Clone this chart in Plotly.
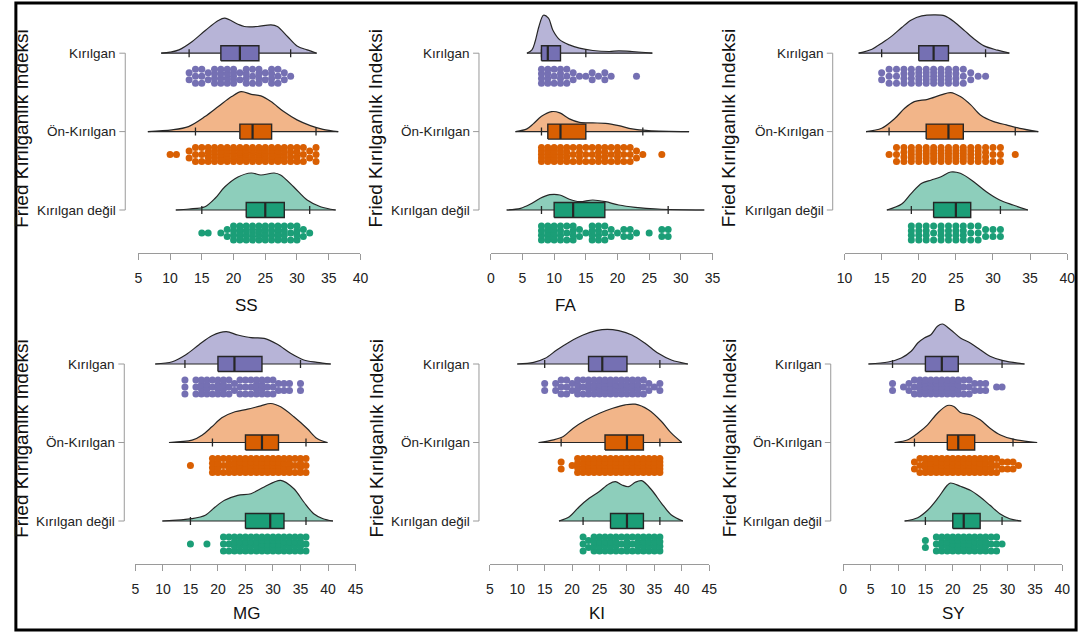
import plotly.graph_objects as go

W, H = 1090, 634
FONT = "Liberation Sans, Arial, sans-serif"

GROUPS = ["Kırılgan", "Ön-Kırılgan", "Kırılgan değil"]
GROUP_POS = [3, 2, 1]
PANELS = ["SS", "FA", "B", "MG", "KI", "SY"]
Y_TITLE = "Fried Kırılganlık Indeksi"

# x tick labels per panel
SS_TICKS = [5, 10, 15, 20, 25, 30, 35, 40]
FA_TICKS = [0, 5, 10, 15, 20, 25, 30, 35]
B_TICKS = [10, 15, 20, 25, 30, 35, 40]
MG_TICKS = [5, 10, 15, 20, 25, 30, 35, 40, 45]
KI_TICKS = [5, 10, 15, 20, 25, 30, 35, 40, 45]
SY_TICKS = [0, 5, 10, 15, 20, 25, 30, 35, 40]

# box stats: [lower whisker, q1, median, q3, upper whisker]
SS_BOX = {"Kırılgan": [13, 18, 21, 24, 29], "Ön-Kırılgan": [14, 21, 23, 26, 33], "Kırılgan değil": [15, 22, 25, 28, 32]}
FA_BOX = {"Kırılgan": [8, 8, 9, 11, 15], "Ön-Kırılgan": [8, 9, 11, 15, 24], "Kırılgan değil": [8, 10, 13, 18, 28]}
B_BOX = {"Kırılgan": [15, 20, 22, 24, 29], "Ön-Kırılgan": [16, 21, 24, 26, 33], "Kırılgan değil": [19, 22, 25, 27, 31]}
MG_BOX = {"Kırılgan": [14, 20, 23, 28, 35], "Ön-Kırılgan": [19, 25, 28, 31, 36], "Kırılgan değil": [15, 25, 29.5, 32, 36]}
KI_BOX = {"Kırılgan": [15, 23, 25.5, 30, 36], "Ön-Kırılgan": [18, 26, 30, 33, 36], "Kırılgan değil": [22, 27, 30, 33, 36]}
SY_BOX = {"Kırılgan": [9, 15, 18, 21, 29], "Ön-Kırılgan": [13, 19, 21, 24, 31], "Kırılgan değil": [15, 20, 22, 25, 29]}

# density curves (x, relative density)
SS_DX = {
    "Kırılgan": [8.6, 10.0, 11.4, 13.5, 15.6, 17.6, 18.6, 20.7, 21.7, 23.8, 25.9, 26.9, 28.5, 30.0, 31.6, 33.1],
    "Ön-Kırılgan": [6.5, 10.3, 12.9, 15.5, 17.6, 19.7, 21.2, 22.8, 24.3, 25.9, 27.9, 30.0, 32.1, 34.1, 36.5],
    "Kırılgan değil": [10.9, 13.0, 15.5, 17.1, 18.6, 20.7, 22.8, 24.3, 26.4, 27.4, 29.5, 31.6, 33.7, 36.1],
}
SS_DY = {
    "Kırılgan": [0, 1.0, 3.3, 11.7, 23, 32.7, 35, 29, 26.7, 26.7, 28.3, 26.7, 16.7, 7.3, 3.3, 0],
    "Ön-Kırılgan": [0, 1.7, 5, 15, 25, 35, 40, 37.3, 35.7, 30, 20, 11.7, 6, 2.3, 0],
    "Kırılgan değil": [0, 1.0, 3.3, 11.7, 23, 33, 37, 35, 37, 35, 23, 10, 3.3, 0],
}
FA_DX = {
    "Kırılgan": [5.7, 6.5, 7.0, 7.6, 8.3, 9.1, 9.8, 10.9, 12.4, 14.0, 16.1, 18.7, 20.2, 22.3, 24.4, 25.5],
    "Ön-Kırılgan": [3.9, 5.7, 6.7, 8.0, 9.6, 10.9, 12.4, 14.0, 16.1, 18.1, 20.2, 22.3, 24.9, 31.3],
    "Kırılgan değil": [2.5, 4.7, 6.2, 7.8, 9.3, 10.9, 12.4, 14.0, 16.1, 18.1, 20.2, 22.8, 26.4, 33.7],
}
FA_DY = {
    "Kırılgan": [0, 3.3, 11.7, 26.7, 38, 35, 23, 13.3, 8.3, 5, 2.7, 1.7, 2.3, 1.7, 0.7, 0],
    "Ön-Kırılgan": [0, 2.7, 7.7, 15.3, 20, 18.7, 12.7, 9.3, 8.7, 8.3, 6, 2.7, 1, 0],
    "Kırılgan değil": [0, 1.7, 5.7, 11.7, 15.3, 15, 10.7, 8.3, 10, 8.3, 5, 2.7, 1, 0],
}
B_DX = {
    "Kırılgan": [11.9, 13.7, 15.0, 16.4, 17.7, 19.0, 20.4, 22.2, 23.5, 24.8, 26.2, 27.5, 28.8, 30.6, 32.2],
    "Ön-Kırılgan": [12.9, 15.0, 16.8, 18.1, 19.4, 21.2, 23.0, 24.3, 25.6, 27.0, 28.3, 30.1, 31.8, 33.6, 36.1],
    "Kırılgan değil": [15.7, 17.7, 19.0, 20.4, 21.7, 23.0, 24.3, 25.6, 27.4, 29.1, 30.9, 32.7, 34.7],
}
B_DY = {
    "Kırılgan": [0, 4, 10, 17.3, 25.7, 33.3, 37.3, 38.3, 37.3, 31.3, 22.3, 14, 7.3, 3, 0],
    "Ön-Kırılgan": [0, 3.3, 13.3, 23.3, 30, 32.3, 36.7, 39, 35, 26.7, 16.7, 10, 6.7, 3.3, 0],
    "Kırılgan değil": [0, 6, 16.7, 26.7, 30, 33.3, 38, 36.7, 28.3, 18.3, 10, 5, 0],
}
MG_DX = {
    "Kırılgan": [8.6, 11.7, 14.1, 16.5, 18.9, 21.5, 23.6, 26.0, 28.4, 30.8, 33.2, 35.6, 38.0, 40.5],
    "Ön-Kırılgan": [11.1, 15.3, 17.1, 18.9, 20.7, 23.1, 25.4, 27.8, 29.6, 31.4, 33.8, 36.2, 38.0, 39.9],
    "Kırılgan değil": [9.9, 15.3, 17.7, 19.5, 21.2, 23.6, 26.0, 28.4, 31.4, 33.8, 35.6, 37.4, 39.1, 40.9],
}
MG_DY = {
    "Kırılgan": [0, 2.3, 9, 19, 28.3, 32.3, 29, 26.3, 25.7, 19.7, 10.7, 4, 1.7, 0],
    "Ön-Kırılgan": [0, 2.3, 7.3, 15.7, 24.7, 30.7, 33.3, 36.7, 39, 35.7, 25.7, 14, 4, 0],
    "Kırılgan değil": [0, 2.3, 5.7, 14, 20.7, 25.7, 27.3, 34, 40.7, 32.3, 19, 7.3, 2.3, 0],
}
KI_DX = {
    "Kırılgan": [10.0, 13.0, 15.1, 17.2, 19.6, 22.0, 24.4, 26.4, 28.5, 30.9, 33.3, 35.7, 38.1, 41.1],
    "Ön-Kırılgan": [13.9, 16.6, 18.4, 20.2, 22.6, 25.0, 27.4, 29.7, 31.5, 33.9, 36.3, 38.1, 40.0],
    "Kırılgan değil": [17.6, 19.5, 21.3, 23.1, 24.9, 26.7, 27.9, 29.1, 30.3, 31.5, 32.7, 34.5, 36.3, 38.1, 40.2],
}
KI_DY = {
    "Kırılgan": [0, 1.7, 5.7, 14, 22.3, 29, 33.3, 34.7, 33.3, 29, 20.7, 10.7, 4, 0],
    "Ön-Kırılgan": [0, 2.7, 6, 14.3, 22.7, 29.3, 34.3, 37.7, 38.3, 32.7, 21, 9.3, 0],
    "Kırılgan değil": [0, 4.3, 14.3, 22.7, 29.3, 37, 39.3, 36, 34.3, 38.7, 40.3, 31, 17.7, 6, 0],
}
SY_DX = {
    "Kırılgan": [4.6, 8.2, 10.6, 12.4, 13.6, 14.8, 16.0, 17.2, 18.1, 19.6, 21.4, 23.2, 25.0, 26.8, 29.2, 33.1],
    "Ön-Kırılgan": [9.4, 11.8, 13.6, 15.4, 17.2, 19.0, 20.2, 21.4, 23.2, 25.0, 26.8, 28.6, 31.0, 35.4],
    "Kırılgan değil": [11.2, 13.6, 15.4, 17.2, 19.0, 19.6, 21.4, 23.2, 25.0, 26.8, 28.6, 30.4, 32.5],
}
SY_DY = {
    "Kırılgan": [0, 2, 6, 12.7, 21, 26, 29.3, 37.7, 40, 34.3, 26, 21, 14.3, 7.7, 3.3, 0],
    "Ön-Kırılgan": [0, 2.7, 9.3, 17.7, 29.3, 37, 36, 30, 27.7, 22.7, 14.3, 7.7, 3.3, 0],
    "Kırılgan değil": [0, 3.3, 10.7, 22.3, 35.7, 38, 34.7, 30.7, 24, 15.7, 7.3, 2.3, 0],
}

# raw scores: value -> number of participants with that score
SS_V = {
    "Kırılgan": [13, 14, 15, 16, 17, 18, 19, 20, 21, 22, 23, 24, 25, 26, 27, 28, 29],
    "Ön-Kırılgan": [10, 11, 13, 14, 15, 16, 17, 18, 19, 20, 21, 22, 23, 24, 25, 26, 27, 28, 29, 30, 31, 32, 33],
    "Kırılgan değil": [15, 16, 18, 19, 20, 21, 22, 23, 24, 25, 26, 27, 28, 29, 30, 31, 32],
}
SS_N = {
    "Kırılgan": [2, 3, 3, 2, 4, 4, 4, 5, 2, 4, 3, 4, 2, 4, 3, 2, 1],
    "Ön-Kırılgan": [1, 1, 2, 3, 3, 4, 5, 5, 6, 6, 7, 7, 7, 7, 6, 6, 5, 5, 4, 4, 3, 2, 3],
    "Kırılgan değil": [1, 1, 1, 2, 4, 5, 4, 5, 4, 5, 4, 5, 4, 3, 4, 2, 1],
}
FA_V = {
    "Kırılgan": [8, 9, 10, 11, 12, 13, 14, 15, 16, 17, 18, 19, 23],
    "Ön-Kırılgan": [8, 9, 10, 11, 12, 13, 14, 15, 16, 17, 18, 19, 20, 21, 22, 23, 24, 27],
    "Kırılgan değil": [8, 9, 10, 11, 12, 13, 14, 15, 16, 17, 18, 19, 20, 21, 22, 23, 25, 27, 28],
}
FA_N = {
    "Kırılgan": [4, 4, 3, 4, 3, 2, 1, 1, 2, 1, 2, 1, 1],
    "Ön-Kırılgan": [5, 5, 5, 5, 4, 3, 4, 3, 3, 4, 4, 3, 4, 3, 3, 2, 1, 1],
    "Kırılgan değil": [4, 5, 5, 4, 3, 4, 2, 1, 4, 4, 3, 2, 1, 2, 2, 1, 1, 2, 2],
}
B_V = {
    "Kırılgan": [15, 16, 17, 18, 19, 20, 21, 22, 23, 24, 25, 26, 27, 28, 29],
    "Ön-Kırılgan": [16, 17, 18, 19, 20, 21, 22, 23, 24, 25, 26, 27, 28, 29, 30, 31, 33],
    "Kırılgan değil": [19, 20, 21, 22, 23, 24, 25, 26, 27, 28, 29, 30, 31],
}
B_N = {
    "Kırılgan": [2, 3, 3, 4, 4, 5, 5, 5, 5, 5, 4, 3, 2, 1, 1],
    "Ön-Kırılgan": [1, 3, 4, 5, 5, 6, 6, 6, 6, 6, 6, 5, 5, 4, 3, 3, 1],
    "Kırılgan değil": [4, 4, 4, 3, 4, 4, 4, 4, 3, 3, 2, 2, 2],
}
MG_V = {
    "Kırılgan": [14, 16, 17, 18, 19, 20, 21, 22, 23, 24, 25, 26, 27, 28, 29, 30, 31, 32, 33, 35],
    "Ön-Kırılgan": [15, 19, 20, 21, 22, 23, 24, 25, 26, 27, 28, 29, 30, 31, 32, 33, 34, 35, 36],
    "Kırılgan değil": [15, 18, 21, 22, 23, 24, 25, 26, 27, 28, 29, 30, 31, 32, 33, 34, 35, 36],
}
MG_N = {
    "Kırılgan": [3, 3, 4, 4, 3, 4, 4, 3, 2, 3, 3, 3, 4, 4, 3, 3, 2, 2, 2, 2],
    "Ön-Kırılgan": [1, 4, 4, 3, 4, 4, 5, 4, 5, 5, 5, 5, 5, 5, 4, 4, 3, 4, 3],
    "Kırılgan değil": [1, 1, 3, 3, 4, 4, 4, 4, 4, 5, 5, 5, 5, 4, 4, 4, 4, 3],
}
KI_V = {
    "Kırılgan": [15, 17, 18, 19, 20, 21, 22, 23, 24, 25, 26, 27, 28, 29, 30, 31, 32, 33, 34, 35, 36],
    "Ön-Kırılgan": [18, 20, 21, 22, 23, 24, 25, 26, 27, 28, 29, 30, 31, 32, 33, 34, 35, 36],
    "Kırılgan değil": [22, 23, 24, 25, 26, 27, 28, 29, 30, 31, 32, 33, 34, 35, 36],
}
KI_N = {
    "Kırılgan": [2, 2, 3, 3, 2, 4, 3, 4, 4, 4, 5, 5, 4, 4, 4, 4, 4, 3, 2, 1, 2],
    "Ön-Kırılgan": [2, 1, 4, 4, 5, 5, 5, 5, 5, 5, 5, 5, 5, 5, 5, 5, 5, 5],
    "Kırılgan değil": [3, 2, 4, 4, 4, 4, 4, 3, 4, 3, 4, 4, 4, 4, 4],
}
SY_V = {
    "Kırılgan": [9, 11, 12, 13, 14, 15, 16, 17, 18, 19, 20, 21, 22, 23, 24, 25, 26, 28, 29],
    "Ön-Kırılgan": [13, 14, 15, 16, 17, 18, 19, 20, 21, 22, 23, 24, 25, 26, 27, 28, 29, 30, 31, 32],
    "Kırılgan değil": [15, 17, 18, 19, 20, 21, 22, 23, 24, 25, 26, 27, 28, 29],
}
SY_N = {
    "Kırılgan": [2, 1, 2, 3, 4, 5, 5, 5, 5, 5, 5, 4, 3, 3, 2, 2, 2, 1, 1],
    "Ön-Kırılgan": [2, 3, 4, 4, 5, 5, 5, 5, 5, 5, 5, 5, 4, 4, 4, 3, 2, 2, 2, 1],
    "Kırılgan değil": [2, 3, 4, 4, 5, 5, 5, 5, 4, 4, 4, 3, 3, 1],
}

PANEL_DATA = {
    "SS": (SS_TICKS, SS_BOX, SS_DX, SS_DY, SS_V, SS_N),
    "FA": (FA_TICKS, FA_BOX, FA_DX, FA_DY, FA_V, FA_N),
    "B": (B_TICKS, B_BOX, B_DX, B_DY, B_V, B_N),
    "MG": (MG_TICKS, MG_BOX, MG_DX, MG_DY, MG_V, MG_N),
    "KI": (KI_TICKS, KI_BOX, KI_DX, KI_DY, KI_V, KI_N),
    "SY": (SY_TICKS, SY_BOX, SY_DX, SY_DY, SY_V, SY_N),
}

# ---------------- styling / geometry ----------------
DARK = {"Kırılgan": "#7570B3", "Ön-Kırılgan": "#D95F02", "Kırılgan değil": "#1B9E77"}
LIGHT = {"Kırılgan": "rgba(117,112,179,0.52)", "Ön-Kırılgan": "rgba(232,120,40,0.55)",
         "Kırılgan değil": "rgba(27,158,119,0.5)"}
OUTLINE = "#262626"
AXIS_GRAY = "#9a9a9a"

PANEL_XPX = [(132.3, 357.7), (490, 715), (849, 1075), (129.3, 352.7), (489, 711.7), (847.7, 1070)]
ROW_CAT1 = [210, 521]
ROW_PPU = [78.4, 78.5]
ROW_AXIS = [253, 564]
ROW_TOP = [8, 319]
BRACKET_X = [119, 478, 837, 118, 478, 835]
YTITLE_X = [14, 373, 732, 13, 373, 732]
YTITLE_Y = [128, 438]
XTITLE_X = [242, 566, 966, 242, 598, 960]
XTITLE_Y = [305, 613]

DENS_PX = 1.0  # density units are pixels of height
BOX_HALF = 7.5
CAP_HALF = 4.0
DOT_OFF = 23.0
DOT_SPREAD = 7.0

fig = go.Figure()
layout = dict(width=W, height=H, margin=dict(l=0, r=0, t=0, b=0), showlegend=False,
              plot_bgcolor="white", paper_bgcolor="white")
shapes = []
annotations = []

for i, name in enumerate(PANELS):
    row = i // 3
    ticks, box, dxs, dys, vals, cnts = PANEL_DATA[name]
    ppu = ROW_PPU[row]
    cat1 = ROW_CAT1[row]
    ylo = 1 - (ROW_AXIS[row] - cat1) / ppu
    yhi = 1 + (cat1 - ROW_TOP[row]) / ppu
    xs = "" if i == 0 else str(i + 1)
    xa, ya = "x" + xs, "y" + xs
    x0p, x1p = PANEL_XPX[i]
    layout["xaxis" + xs] = dict(
        domain=[x0p / W, x1p / W], anchor=ya, range=[ticks[0], ticks[-1]],
        tickvals=ticks, ticktext=[str(t) for t in ticks], showline=True, linecolor=AXIS_GRAY, linewidth=1,
        ticks="outside", ticklen=6, tickcolor=AXIS_GRAY, tickwidth=1, showgrid=False, zeroline=False,
        tickfont=dict(family=FONT, size=14, color="#222"), ticklabelstandoff=6, fixedrange=True)
    layout["yaxis" + xs] = dict(
        domain=[1 - ROW_AXIS[row] / H, 1 - ROW_TOP[row] / H], anchor=xa, range=[ylo, yhi],
        visible=False, fixedrange=True)

    u = 1.0 / ppu  # one pixel in y units
    for g, c in zip(GROUPS, GROUP_POS):
        lo, q1, med, q3, hi = box[g]
        dx, dy = dxs[g], dys[g]
        # half-violin density
        fig.add_trace(go.Scatter(
            x=dx, y=[c + v * DENS_PX * u for v in dy], xaxis=xa, yaxis=ya, mode="lines",
            fill="toself", fillcolor=LIGHT[g],
            line=dict(color=OUTLINE, width=1.2, shape="spline", smoothing=0.9), hoverinfo="skip"))
        # baseline / whiskers
        fig.add_trace(go.Scatter(
            x=[dx[0], q1, None, q3, dx[-1]], y=[c, c, None, c, c], xaxis=xa, yaxis=ya, mode="lines",
            line=dict(color=OUTLINE, width=1.2), hoverinfo="skip"))
        # whisker caps
        fig.add_trace(go.Scatter(
            x=[lo, lo, None, hi, hi],
            y=[c - CAP_HALF * u, c + CAP_HALF * u, None, c - CAP_HALF * u, c + CAP_HALF * u],
            xaxis=xa, yaxis=ya, mode="lines", line=dict(color=OUTLINE, width=1.3), hoverinfo="skip"))
        # box
        fig.add_trace(go.Scatter(
            x=[q1, q3, q3, q1, q1],
            y=[c - BOX_HALF * u, c - BOX_HALF * u, c + BOX_HALF * u, c + BOX_HALF * u, c - BOX_HALF * u],
            xaxis=xa, yaxis=ya, mode="lines", fill="toself", fillcolor=DARK[g],
            line=dict(color=OUTLINE, width=1.4), hoverinfo="skip"))
        # median
        fig.add_trace(go.Scatter(
            x=[med, med], y=[c - BOX_HALF * u, c + BOX_HALF * u], xaxis=xa, yaxis=ya, mode="lines",
            line=dict(color=OUTLINE, width=2.2), hoverinfo="skip"))
        # raw data dots
        px, py = [], []
        centre = c - DOT_OFF * u
        for v, n in zip(vals[g], cnts[g]):
            for k in range(n):
                off = 0.0 if n == 1 else (-DOT_SPREAD + 2 * DOT_SPREAD * k / (n - 1))
                if n == 2:
                    off = -3.5 + 7.0 * k
                px.append(v)
                py.append(centre + off * u)
        fig.add_trace(go.Scatter(
            x=px, y=py, xaxis=xa, yaxis=ya, mode="markers",
            marker=dict(color=DARK[g], size=7, line=dict(width=0)), hoverinfo="skip"))

        # category tick + label
        bx = BRACKET_X[i]
        shapes.append(dict(type="line", xref="paper", yref=ya, x0=(bx - 6) / W, x1=bx / W, y0=c, y1=c,
                           line=dict(color=AXIS_GRAY, width=1)))
        annotations.append(dict(text=g, xref="paper", yref=ya, x=(bx - 7) / W, y=c, xanchor="right",
                                yanchor="middle", showarrow=False,
                                font=dict(family=FONT, size=13.5, color="#222")))
    bx = BRACKET_X[i]
    shapes.append(dict(type="line", xref="paper", yref=ya, x0=bx / W, x1=bx / W, y0=1, y1=3,
                       line=dict(color=AXIS_GRAY, width=1)))
    annotations.append(dict(text=Y_TITLE, xref="paper", yref="paper", x=YTITLE_X[i] / W,
                            y=1 - YTITLE_Y[row] / H, xanchor="center", yanchor="middle", textangle=-90,
                            showarrow=False, font=dict(family=FONT, size=19, color="#111")))
    annotations.append(dict(text=name, xref="paper", yref="paper", x=XTITLE_X[i] / W,
                            y=1 - XTITLE_Y[row] / H, xanchor="center", yanchor="middle",
                            showarrow=False, font=dict(family=FONT, size=17, color="#111")))

# outer frame
shapes.append(dict(type="rect", xref="paper", yref="paper", x0=8 / W, x1=1084 / W,
                   y0=1 - 630 / H, y1=1 - 3 / H, line=dict(color="black", width=3)))

layout["shapes"] = shapes
layout["annotations"] = annotations
fig.update_layout(**layout)
fig.write_html("out.html", config={"displayModeBar": False},
               post_script="document.body.style.margin='0px';document.body.style.overflow='hidden';")
